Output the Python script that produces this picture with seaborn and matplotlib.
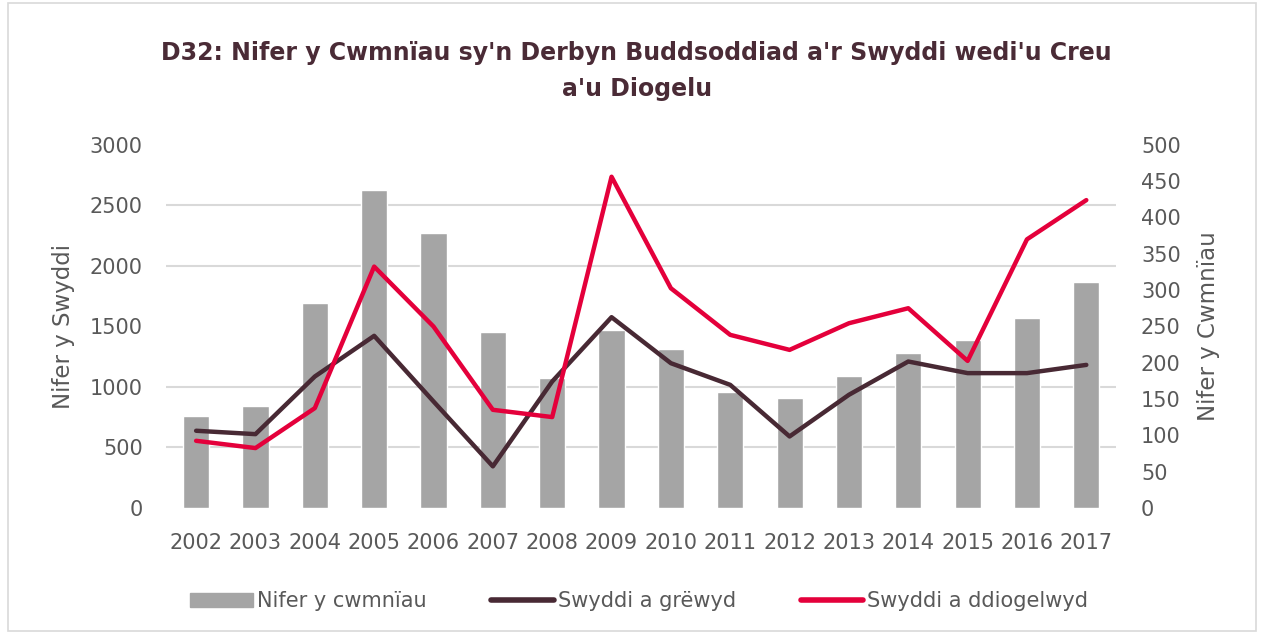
import numpy as np
import pandas as pd
import matplotlib.pyplot as plt
import matplotlib.patches as mpatches
from matplotlib.lines import Line2D
import seaborn as sns

# Data
years = [str(y) for y in range(2002, 2018)]
companies = [127, 140, 282, 438, 378, 242, 179, 245, 219, 159, 151, 182, 213, 231, 261, 311]
jobs_created = [638, 610, 1086, 1422, 880, 344, 1045, 1576, 1196, 1017, 591, 935, 1210, 1114, 1114, 1182]
jobs_safeguarded = [555, 495, 825, 1994, 1499, 811, 751, 2736, 1815, 1430, 1306, 1526, 1650, 1215, 2219, 2543]

labels = ["Nifer y cwmnïau", "Swyddi a grëwyd", "Swyddi a ddiogelwyd"]
bar_color = "#a5a5a5"
dark_color = "#482934"
red_color = "#e4003b"
text_color = "#595959"

sns.set_theme(style="white")
plt.rcParams["font.family"] = ["DejaVu Sans"]

df = pd.DataFrame({
    "year": years,
    "pos": np.arange(len(years)),
    "companies": companies,
    "created": jobs_created,
    "safeguarded": jobs_safeguarded,
})

fig = plt.figure(figsize=(12.61, 6.35), dpi=100)
ax = fig.add_axes([0.132, 0.2, 0.753, 0.572])
ax2 = ax.twinx()

# bars (companies) on the primary axes, shown on the right-hand scale
sns.barplot(data=df, x="year", y="companies", color=bar_color, width=0.44,
            saturation=1, ax=ax)
ax.set_ylim(0, 500)
ax.set_yticks(np.arange(0, 501, 50))
ax.set_yticks(np.linspace(0, 500, 7), minor=True)
ax.yaxis.set_minor_formatter(plt.NullFormatter())
ax.grid(which="minor", axis="y", color="#d9d9d9", linewidth=1.5)
ax.grid(which="major", visible=False)
ax.set_axisbelow(True)
ax.set_xlabel("")
ax.set_xlim(-0.5, len(years) - 0.5)

# lines (jobs) on the twin axes, shown on the left-hand scale
sns.lineplot(data=df, x="pos", y="created", color=dark_color, linewidth=3.2,
             ax=ax2, solid_capstyle="round", solid_joinstyle="round")
sns.lineplot(data=df, x="pos", y="safeguarded", color=red_color, linewidth=3.2,
             ax=ax2, solid_capstyle="round", solid_joinstyle="round")
ax2.set_ylim(0, 3000)
ax2.set_yticks(np.arange(0, 3001, 500))
ax2.set_xlim(-0.5, len(years) - 0.5)
ax2.set_xlabel("")
ax2.grid(False)

# swap sides: jobs scale on the left, companies scale on the right
ax.yaxis.tick_right()
ax.yaxis.set_label_position("right")
ax2.yaxis.tick_left()
ax2.yaxis.set_label_position("left")
ax.set_ylabel("Nifer y Cwmnïau", color=text_color, fontsize=16.5, labelpad=12)
ax2.set_ylabel("Nifer y Swyddi", color=text_color, fontsize=16.5, labelpad=11)
ax.tick_params(axis="y", which="both", length=0, labelsize=15, labelcolor=text_color, pad=18)
ax.tick_params(axis="x", length=0, labelsize=15, labelcolor=text_color, pad=18)
ax2.tick_params(axis="y", length=0, labelsize=15, labelcolor=text_color, pad=17)

for a in (ax, ax2):
    for s in a.spines.values():
        s.set_visible(False)

fig.suptitle("D32: Nifer y Cwmnïau sy'n Derbyn Buddsoddiad a'r Swyddi wedi'u Creu\na'u Diogelu",
             x=0.505, y=0.935, fontsize=17, fontweight="bold", color="#4a2b36",
             linespacing=1.6)

handles = [
    mpatches.Patch(color=bar_color),
    Line2D([], [], color=dark_color, linewidth=4, solid_capstyle="round"),
    Line2D([], [], color=red_color, linewidth=4, solid_capstyle="round"),
]
fig.legend(handles, labels, loc="center", bbox_to_anchor=(0.507, 0.053), ncol=3,
           frameon=False, fontsize=15, handlelength=3.0, handletextpad=0.2,
           columnspacing=3.1, labelcolor=text_color)

fig.patches.append(mpatches.Rectangle((0.006, 0.006), 0.99, 0.99, transform=fig.transFigure,
                                      fill=False, edgecolor="#d9d9d9", linewidth=1.2))

plt.savefig("out.png", dpi=100)
